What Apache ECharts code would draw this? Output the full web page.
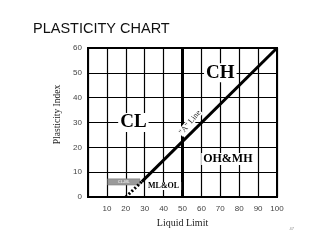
<!DOCTYPE html>
<html>
<head>
<meta charset="utf-8">
<script src="https://cdn.jsdelivr.net/npm/echarts@6/dist/echarts.min.js"></script>
<style>
  html, body { margin: 0; padding: 0; background: #fff; }
  #chart { width: 320px; height: 240px; }
</style>
</head>
<body>
<div id="chart"></div>
<script>
// A-line, dotted start and the LL=50 divider, in (liquid limit, plasticity index)
const aLineSolid = [[28.5, 6.2], [100, 60]];
const aLineDotted = [[20, 0], [28.5, 6.2]];
const llDivider = [[50, 0], [50, 60]];
// zone labels: [LL, PI, text]
const zoneLabels = [
    [70, 50, 'CH'],
    [24, 30, 'CL'],
    [74, 15.3, 'OH&MH'],
    [40, 4.4, 'ML&OL']
];
const zoneSizes = [19, 19, 12, 8];
const aLineLabel = [[54, 30, '"A" Line']];
const clmlBox = [[10.4, 7.3], [27.5, 4.8]];

const chart = echarts.init(document.getElementById('chart'));

const serif = '"Liberation Serif", "DejaVu Serif", serif';

const option = {
    animation: false,
    title: {
        text: 'PLASTICITY CHART',
        left: 28,
        top: 16,
        textStyle: { fontFamily: '"Liberation Sans", Arial, sans-serif', fontSize: 14.5, fontWeight: 'normal', color: '#111' }
    },
    grid: {
        left: 88, right: 43, top: 48, bottom: 43,
        show: true, borderColor: '#000', borderWidth: 2
    },
    xAxis: {
        type: 'value', min: 0, max: 100, interval: 10,
        name: 'Liquid Limit', nameLocation: 'middle', nameGap: 21,
        nameTextStyle: { fontFamily: serif, fontSize: 10, color: '#222' },
        axisLine: { lineStyle: { color: '#000', width: 2 } },
        axisTick: { show: false },
        axisLabel: {
            color: '#444', fontSize: 8, margin: 8,
            formatter: v => (v === 0 ? '' : v)
        },
        splitLine: { lineStyle: { color: '#000', width: 1.2 } }
    },
    yAxis: {
        type: 'value', min: 0, max: 60, interval: 10,
        name: 'Plasticity Index', nameLocation: 'middle', nameGap: 21,
        nameTextStyle: { fontFamily: serif, fontSize: 9.5, color: '#222', padding: [0, 0, 0, 16] },
        axisLine: { lineStyle: { color: '#000', width: 2 } },
        axisTick: { show: false },
        axisLabel: { color: '#444', fontSize: 8, margin: 6 },
        splitLine: { lineStyle: { color: '#000', width: 1.2 } }
    },
    series: [
        {
            type: 'line', data: llDivider, symbol: 'none',
            lineStyle: { color: '#000', width: 3 }
        },
        {
            type: 'line', data: aLineSolid, symbol: 'none',
            lineStyle: { color: '#000', width: 3 },
            markArea: {
                silent: true,
                itemStyle: { color: '#9a9a9a', borderColor: '#777', borderWidth: 0.5, opacity: 1 },
                label: { show: true, position: 'inside', color: '#fff', fontSize: 4, formatter: 'CL-ML' },
                data: [[{ coord: clmlBox[0] }, { coord: clmlBox[1] }]]
            }
        },
        {
            type: 'line', data: aLineDotted, symbol: 'none',
            lineStyle: { color: '#000', width: 3, type: [2, 2] }
        },
        {
            type: 'scatter', symbolSize: 0, z: 5,
            itemStyle: { opacity: 1 },
            data: zoneLabels.map((d, i) => ({
                value: d,
                label: { fontSize: zoneSizes[i] }
            })),
            label: {
                show: true, position: 'inside',
                formatter: p => p.value[2],
                fontFamily: serif, fontWeight: 'bold', color: '#000',
                backgroundColor: '#fff', padding: [0, 2]
            }
        },
        {
            type: 'scatter', data: aLineLabel, symbolSize: 0, z: 5,
            itemStyle: { opacity: 1 },
            label: {
                show: true, position: 'inside', rotate: 50,
                formatter: p => p.value[2],
                fontFamily: serif, fontSize: 8, color: '#222',
                backgroundColor: '#fff', padding: [0, 1]
            }
        }
    ],
    graphic: [
        {
            type: 'text', right: 26, bottom: 9,
            style: { text: '47', fontSize: 4, fill: '#888' }
        }
    ]
};

chart.setOption(option);
</script>
</body>
</html>
